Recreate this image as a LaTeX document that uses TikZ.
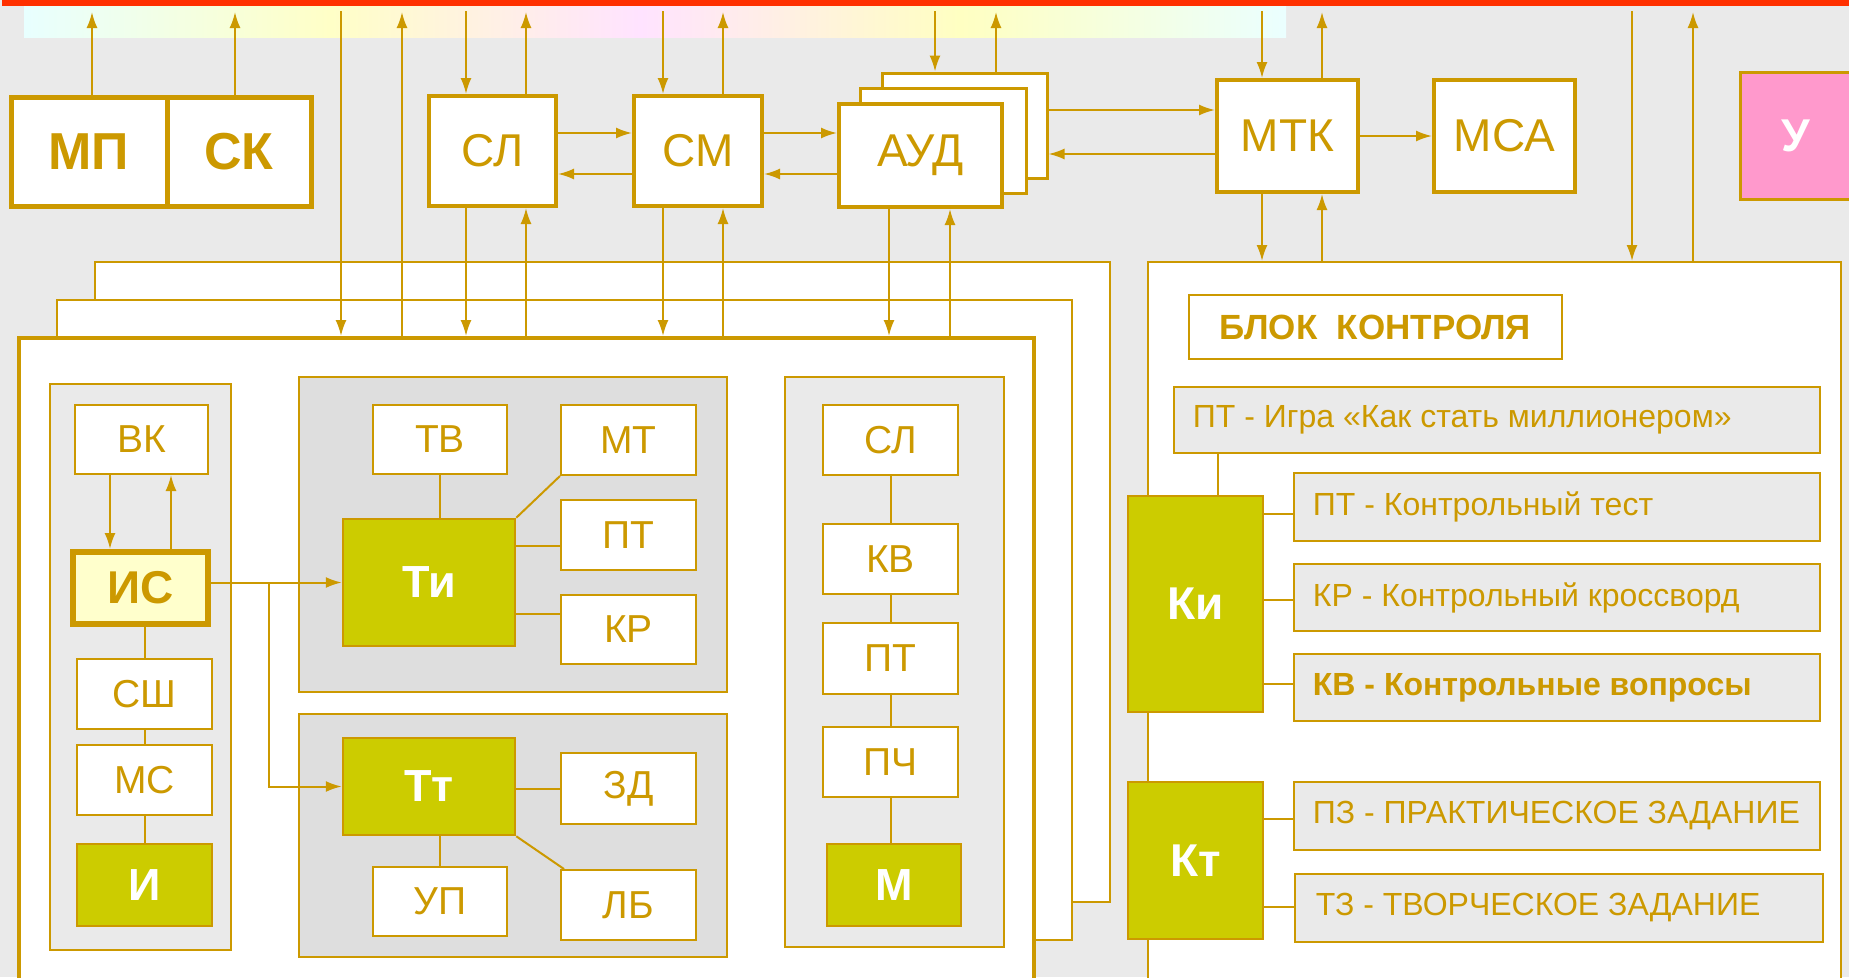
\documentclass[tikz,border=0pt]{standalone}
\usepackage{fontspec}
\setmainfont{Liberation Sans}
\usetikzlibrary{arrows.meta,calc}
\definecolor{gold}{RGB}{204,153,0}
\definecolor{tolive}{RGB}{204,204,0}
\definecolor{bgg}{RGB}{234,234,234}
\definecolor{pang}{RGB}{222,222,222}
\definecolor{isfill}{RGB}{255,255,204}
\definecolor{upink}{RGB}{255,153,204}
\definecolor{topred}{RGB}{255,48,0}
\newcommand\mkbox[7]{%
  \node[#1, minimum width={(#5)-(#3)}, minimum height={(#6)-(#4)}] (#2) at ({((#3)+(#5))/2},{((#4)+(#6))/2}) {#7};}
\begin{document}
\begin{tikzpicture}[x=1pt,y=-1pt,
  bx/.style={draw=gold, fill=white, inner sep=0pt, text=gold, line width=2pt},
  topbox/.style={bx, line width=4pt, font=\fontsize{46}{50}\selectfont},
  bigbox/.style={bx, line width=5pt, font=\fontsize{52}{56}\selectfont\bfseries},
  inbox/.style={bx, line width=2pt, font=\fontsize{39}{42}\selectfont},
  olbox/.style={bx, fill=tolive, text=white, line width=2.5pt, font=\fontsize{45}{48}\selectfont\bfseries},
  panel/.style={draw=gold, fill=bgg, line width=1.5pt, inner sep=0pt},
  frame/.style={draw=gold, fill=white, line width=2pt, inner sep=0pt},
  lbox/.style={draw=gold, fill=bgg, line width=2.5pt, inner sep=0pt},
  ltext/.style={anchor=west, inner sep=0pt, text=gold, font=\fontsize{32}{36}\selectfont},
  conn/.style={draw=gold, line width=2pt},
  arr/.style={conn, -{Latex[length=16pt,width=11pt]}}]
\useasboundingbox (0,0) rectangle (1849,977);
\fill[bgg] (0,0) rectangle (1849,977);
% top strip
\shade[left color=cyan!9, right color=yellow!22] (24,6) rectangle (330,37);
\shade[left color=yellow!22, right color=magenta!11] (330,6) rectangle (640,37);
\shade[left color=magenta!11, right color=yellow!24] (640,6) rectangle (960,37);
\shade[left color=yellow!24, right color=cyan!8] (960,6) rectangle (1286,37);
\fill[topred] (2,0) rectangle (1849,5.5);

% frames
\mkbox{frame}{bf2}{95}{262}{1110}{902}{}
\mkbox{frame}{bf1}{57}{300}{1072}{940}{}
\mkbox{frame, line width=4pt}{ff}{19}{338}{1034}{1000}{}
\mkbox{frame}{bk}{1148}{262}{1841}{1000}{}

% top boxes
\mkbox{bigbox}{mp}{11}{97}{167}{206}{МП}
\mkbox{bigbox}{sk}{167}{97}{311}{206}{СК}
\mkbox{topbox}{sl}{429}{96}{556}{206}{СЛ}
\mkbox{topbox}{sm}{634}{96}{762}{206}{СМ}
\mkbox{bx, line width=3pt}{aud3}{882}{73}{1047}{178}{}
\mkbox{bx, line width=3pt}{aud2}{860}{88}{1026}{193}{}
\mkbox{topbox}{aud}{839}{104}{1002}{207}{АУД}
\mkbox{topbox}{mtk}{1217}{80}{1358}{192}{МТК}
\mkbox{topbox}{msa}{1434}{80}{1575}{192}{МСА}
\mkbox{bx, fill=upink, text=white, line width=3pt, font=\fontsize{46}{50}\selectfont\bfseries}{u}{1740}{72}{1852}{199}{У}

% left panel
\mkbox{panel}{p1}{50}{384}{231}{950}{}
\mkbox{inbox}{vk}{75}{405}{208}{474}{ВК}
\mkbox{bx, fill=isfill, line width=6pt, font=\fontsize{46}{48}\selectfont\bfseries}{is}{73}{552}{208}{624}{ИС}
\mkbox{inbox}{ssh}{77}{659}{212}{729}{СШ}
\mkbox{inbox}{ms}{77}{745}{212}{815}{МС}
\mkbox{olbox}{i}{77}{844}{212}{926}{И}

% Ti panel
\mkbox{panel, fill=pang}{p2}{299}{377}{727}{692}{}
\mkbox{inbox}{tv}{373}{405}{507}{474}{ТВ}
\mkbox{inbox}{mt}{561}{405}{696}{475}{МТ}
\mkbox{olbox}{ti}{343}{519}{515}{646}{Ти}
\mkbox{inbox}{pt1}{561}{500}{696}{570}{ПТ}
\mkbox{inbox}{kr}{561}{595}{696}{664}{КР}

% Tt panel
\mkbox{panel, fill=pang}{p3}{299}{714}{727}{957}{}
\mkbox{olbox}{tt}{343}{738}{515}{835}{Тт}
\mkbox{inbox}{zd}{561}{753}{696}{824}{ЗД}
\mkbox{inbox}{up}{373}{867}{507}{936}{УП}
\mkbox{inbox}{lb}{561}{870}{696}{940}{ЛБ}

% right panel
\mkbox{panel}{p4}{785}{377}{1004}{947}{}
\mkbox{inbox}{sla}{823}{405}{958}{475}{СЛ}
\mkbox{inbox}{kv}{823}{524}{958}{594}{КВ}
\mkbox{inbox}{pt2}{823}{623}{958}{694}{ПТ}
\mkbox{inbox}{pch}{823}{727}{958}{797}{ПЧ}
\mkbox{olbox}{m}{827}{844}{961}{926}{М}

% control block
\mkbox{bx, line width=2.5pt, font=\fontsize{35}{38}\selectfont\bfseries}{bkt}{1189}{295}{1562}{359}{БЛОК\ \ КОНТРОЛЯ}
\mkbox{lbox}{l1}{1174}{387}{1820}{453}{}
\mkbox{lbox}{l2}{1294}{473}{1820}{541}{}
\mkbox{lbox}{l3}{1294}{564}{1820}{631}{}
\mkbox{lbox}{l4}{1294}{654}{1820}{721}{}
\mkbox{lbox}{l5}{1294}{782}{1820}{850}{}
\mkbox{lbox}{l6}{1295}{874}{1823}{942}{}
\node[ltext] (l1t) at ([xshift=20pt]l1.west) {ПТ - Игра «Как стать миллионером»};
\node[ltext] (l2t) at ([xshift=20pt]l2.west) {ПТ - Контрольный тест};
\node[ltext] (l3t) at ([xshift=20pt]l3.west) {КР - Контрольный кроссворд};
\node[ltext, font=\fontsize{32}{36}\selectfont\bfseries] (l4t) at ([xshift=20pt]l4.west) {КВ - Контрольные вопросы};
\node[ltext] (l5t) at ([xshift=20pt]l5.west) {ПЗ - ПРАКТИЧЕСКОЕ ЗАДАНИЕ};
\node[ltext] (l6t) at ([xshift=22pt]l6.west) {ТЗ - ТВОРЧЕСКОЕ ЗАДАНИЕ};
\mkbox{olbox, font=\fontsize{46}{50}\selectfont\bfseries}{ki}{1128}{496}{1263}{712}{Ки}
\mkbox{olbox, font=\fontsize{46}{50}\selectfont\bfseries}{kt}{1128}{782}{1263}{939}{Кт}

% coordinates
\foreach \xx in {92,235,402,526,723,996,1322,1693} {\coordinate (t\xx) at (\xx,12);}
\foreach \xx in {341,466,663,935,1262,1632} {\coordinate (t\xx) at (\xx,11);}
\foreach \xx in {110,145,171,269,889,950,1218} {\coordinate (x\xx) at (\xx,0);}
\foreach \yy in {110,133,136,154,174,514,546,600,614,684,819,907} {\coordinate (y\yy) at (0,\yy);}

% top connectors
\draw[arr] (t92 |- mp.north) -- (t92);
\draw[arr] (t235 |- sk.north) -- (t235);
\draw[arr] (t341) -- (t341 |- ff.north);
\draw[arr] (t402 |- ff.north) -- (t402);
\draw[arr] (t466) -- (t466 |- sl.north);
\draw[arr] (t466 |- sl.south) -- (t466 |- ff.north);
\draw[arr] (t526 |- sl.north) -- (t526);
\draw[arr] (t526 |- ff.north) -- (t526 |- sl.south);
\draw[arr] (t663) -- (t663 |- sm.north);
\draw[arr] (t663 |- sm.south) -- (t663 |- ff.north);
\draw[arr] (t723 |- sm.north) -- (t723);
\draw[arr] (t723 |- ff.north) -- (t723 |- sm.south);
\draw[arr] (t935) -- (t935 |- aud3.north);
\draw[arr] (t996 |- aud3.north) -- (t996);
\draw[arr] (x889 |- aud.south) -- (x889 |- ff.north);
\draw[arr] (x950 |- ff.north) -- (x950 |- aud.south);
\draw[arr] (t1262) -- (t1262 |- mtk.north);
\draw[arr] (t1262 |- mtk.south) -- (t1262 |- bk.north);
\draw[arr] (t1322 |- mtk.north) -- (t1322);
\draw[arr] (t1322 |- bk.north) -- (t1322 |- mtk.south);
\draw[arr] (t1632) -- (t1632 |- bk.north);
\draw[arr] (t1693 |- bk.north) -- (t1693);

% horizontal connectors
\draw[arr] (sl.east |- y133) -- (sm.west |- y133);
\draw[arr] (sm.west |- y174) -- (sl.east |- y174);
\draw[arr] (sm.east |- y133) -- (aud.west |- y133);
\draw[arr] (aud.west |- y174) -- (sm.east |- y174);
\draw[arr] (aud3.east |- y110) -- (mtk.west |- y110);
\draw[arr] (mtk.west |- y154) -- (aud3.east |- y154);
\draw[arr] (mtk.east |- y136) -- (msa.west |- y136);

% left panel connectors
\draw[arr] (x110 |- vk.south) -- (x110 |- is.north);
\draw[arr] (x171 |- is.north) -- (x171 |- vk.south);
\draw[conn] (x145 |- is.south) -- (x145 |- ssh.north);
\draw[conn] (x145 |- ssh.south) -- (x145 |- ms.north);
\draw[conn] (x145 |- ms.south) -- (x145 |- i.north);
\draw[arr] (is.east |- ti.west) -- (ti.west);
\coordinate (br) at (x269 |- ti.west);
\draw[arr] (br) |- (tt.west);

% Ti connectors
\draw[conn] (tv.south) -- (tv.south |- ti.north);
\draw[conn] (ti.north east) -- (mt.south west);
\draw[conn] (ti.east |- y546) -- (pt1.west |- y546);
\draw[conn] (ti.east |- y614) -- (kr.west |- y614);
% Tt connectors
\draw[conn] (tt.east |- zd.west) -- (zd.west);
\draw[conn] (up.north |- tt.south) -- (up.north);
\draw[conn] (tt.south east) -- ([xshift=4pt]lb.north west);
% right panel connectors
\draw[conn] (sla.south) -- (kv.north);
\draw[conn] (kv.south) -- (pt2.north);
\draw[conn] (pt2.south) -- (pch.north);
\draw[conn] (pch.south) -- (pch.south |- m.north);

% control block connectors
\draw[conn] (x1218 |- l1.south) -- (x1218 |- ki.north);
\draw[conn] (ki.east |- y514) -- (l2.west |- y514);
\draw[conn] (ki.east |- y600) -- (l3.west |- y600);
\draw[conn] (ki.east |- y684) -- (l4.west |- y684);
\draw[conn] (kt.east |- y819) -- (l5.west |- y819);
\draw[conn] (kt.east |- y907) -- (l6.west |- y907);
\end{tikzpicture}
\end{document}
